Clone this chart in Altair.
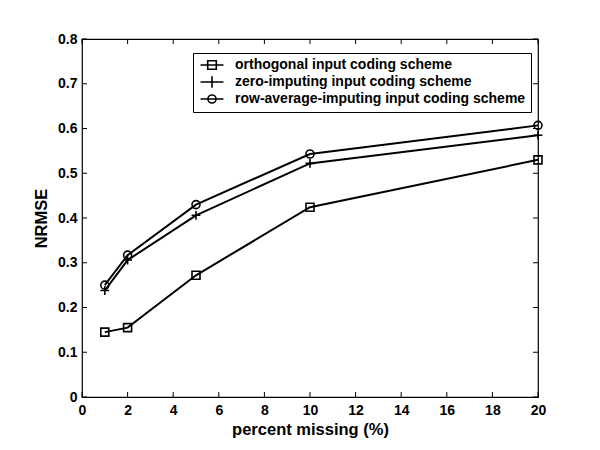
import altair as alt
import pandas as pd

x_vals = [1, 2, 5, 10, 20]
orthogonal = [0.145, 0.155, 0.272, 0.424, 0.530]
zero_imp = [0.238, 0.306, 0.406, 0.522, 0.585]
row_avg = [0.250, 0.317, 0.430, 0.543, 0.607]

series_names = [
    "orthogonal input coding scheme",
    "zero-imputing input coding scheme",
    "row-average-imputing input coding scheme",
]

x_ticks = [0, 2, 4, 6, 8, 10, 12, 14, 16, 18, 20]
y_ticks = [0, 0.1, 0.2, 0.3, 0.4, 0.5, 0.6, 0.7, 0.8]

rows = []
for name, vals in zip(series_names, [orthogonal, zero_imp, row_avg]):
    for xv, yv in zip(x_vals, vals):
        rows.append({"x": xv, "y": yv, "series": name})
df = pd.DataFrame(rows)

W, H = 456, 358
FONT = "Liberation Sans"

square_path = "M-1,-1H1V1H-1Z"
cross_path = "M-1.1,0H1.1M0,-1.1V1.1"
circle_path = "M1,0A1,1 0 1,1 -1,0A1,1 0 1,1 1,0Z"

leg_square = "M-2,0H2M-0.75,-0.75H0.75V0.75H-0.75Z"
leg_cross = "M-2,0H2M0,-1V1"
leg_circle = "M-2,0H2M0.7,0A0.7,0.7 0 1,1 -0.7,0A0.7,0.7 0 1,1 0.7,0Z"

xs = alt.Scale(domain=[0, 20], nice=False, zero=False)
ys = alt.Scale(domain=[0, 0.8], nice=False, zero=False)

x_axis = alt.Axis(
    title="percent missing (%)", values=x_ticks, format="d",
    ticks=False, domain=False, grid=False, labelPadding=6,
    labelFlush=False, labelOverlap=False,
    labelFontSize=14, labelFontWeight="bold", labelColor="black",
    titleFontSize=16.5, titleFontWeight="bold", titleColor="black",
    titlePadding=4, labelFont=FONT, titleFont=FONT)
y_axis = alt.Axis(
    title="NRMSE", values=y_ticks, format="~g",
    ticks=False, domain=False, grid=False, labelPadding=5,
    labelFlush=False, labelOverlap=False,
    labelFontSize=14, labelFontWeight="bold", labelColor="black",
    titleFontSize=16.5, titleFontWeight="bold", titleColor="black",
    titlePadding=8, labelFont=FONT, titleFont=FONT)

base = alt.Chart(df)

lines = base.mark_line(color="black", strokeWidth=2).encode(
    x=alt.X("x:Q", scale=xs, axis=x_axis),
    y=alt.Y("y:Q", scale=ys, axis=y_axis),
    detail="series:N",
)

points = base.mark_point(color="black", filled=False, strokeWidth=1.6, size=64, opacity=1).encode(
    x=alt.X("x:Q", axis=x_axis),
    y=alt.Y("y:Q", axis=y_axis),
    shape=alt.Shape("series:N", scale=alt.Scale(domain=series_names,
                    range=[square_path, cross_path, circle_path]), legend=None),
)

legend_layer = base.mark_point(color="black", filled=False, strokeWidth=1.6).encode(
    x=alt.X("x:Q", axis=x_axis),
    y=alt.Y("y:Q", axis=y_axis),
    shape=alt.Shape("series:N", scale=alt.Scale(domain=series_names,
                    range=[leg_square, leg_cross, leg_circle]),
                    legend=alt.Legend(
                        title=None, orient="none", legendX=111, legendY=14,
                        strokeColor="black", fillColor="white", padding=5,
                        labelFontSize=14, labelFontWeight="bold", labelColor="black",
                        labelFont=FONT, labelLimit=500, symbolSize=132, symbolStrokeWidth=1.6,
                        symbolStrokeColor="black", symbolFillColor="white",
                        symbolOpacity=1, symbolOffset=7, labelOffset=16,
                        rowPadding=0)),
).transform_filter(alt.datum.x < 0)

xt = pd.DataFrame({"x": x_ticks})
yt = pd.DataFrame({"y": y_ticks})

xt_bottom = alt.Chart(xt).mark_rule(color="black", strokeWidth=1).encode(
    x=alt.X("x:Q", scale=xs, axis=x_axis), y=alt.value(H), y2=alt.value(H - 5))
xt_top = alt.Chart(xt).mark_rule(color="black", strokeWidth=1).encode(
    x=alt.X("x:Q", scale=xs, axis=x_axis), y=alt.value(0), y2=alt.value(5))
yt_left = alt.Chart(yt).mark_rule(color="black", strokeWidth=1).encode(
    y=alt.Y("y:Q", scale=ys, axis=y_axis), x=alt.value(0), x2=alt.value(5))
yt_right = alt.Chart(yt).mark_rule(color="black", strokeWidth=1).encode(
    y=alt.Y("y:Q", scale=ys, axis=y_axis), x=alt.value(W), x2=alt.value(W - 5))

chart = alt.layer(
    lines, points, legend_layer, xt_bottom, xt_top, yt_left, yt_right
).resolve_scale(shape="independent").properties(
    width=W, height=H,
    autosize=alt.AutoSizeParams(type="none"),
    padding={"left": 74, "top": 31, "right": 54, "bottom": 45},
    background="white",
).configure(font=FONT).configure_view(stroke="black", strokeWidth=1.2)

chart.save("out.html", embed_options={"renderer": "svg", "actions": False})
